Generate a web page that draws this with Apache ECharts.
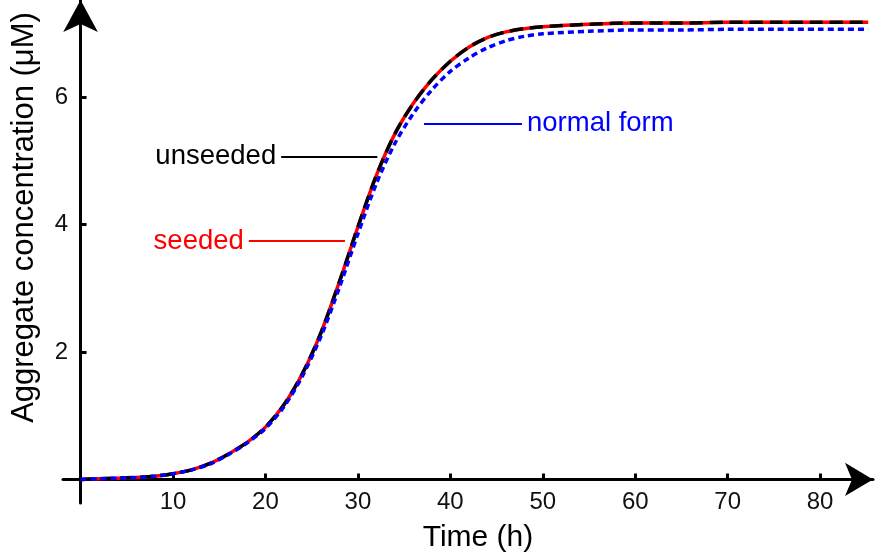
<!DOCTYPE html>
<html lang="en">
<head>
    <meta charset="UTF-8">
    <title>aggregate</title>
    <script src="https://cdn.jsdelivr.net/npm/echarts@6/dist/echarts.min.js"></script>
</head>
<body style="margin:0">
<div id="main" style="width:875px;height:560px"></div>

<script>
    // time points (h) and concentrations (uM)
    var time = [0, 2, 4, 6, 8, 10, 12, 14, 16, 18, 20, 22, 24, 26, 28, 30, 32, 34, 36, 38, 40, 42, 44, 46, 48, 50, 55, 60, 65, 70, 75, 80, 85.2];
    var unseeded = [0, 0.01, 0.02, 0.03, 0.05, 0.09, 0.15, 0.25, 0.40, 0.58, 0.82, 1.17, 1.66, 2.30, 3.10, 3.96, 4.77, 5.42, 5.90, 6.27, 6.56, 6.78, 6.93, 7.02, 7.07, 7.10, 7.14, 7.16, 7.16, 7.17, 7.17, 7.17, 7.17];
    var seeded = [0, 0.01, 0.02, 0.03, 0.05, 0.09, 0.15, 0.25, 0.40, 0.58, 0.82, 1.17, 1.66, 2.30, 3.10, 3.96, 4.77, 5.42, 5.90, 6.27, 6.56, 6.78, 6.93, 7.02, 7.07, 7.10, 7.14, 7.16, 7.16, 7.17, 7.17, 7.17, 7.17];
    var normalForm = [0, 0.01, 0.02, 0.03, 0.05, 0.09, 0.15, 0.24, 0.39, 0.57, 0.80, 1.14, 1.62, 2.24, 3.01, 3.85, 4.64, 5.27, 5.74, 6.11, 6.40, 6.61, 6.77, 6.88, 6.95, 6.99, 7.03, 7.05, 7.05, 7.06, 7.06, 7.06, 7.06];

    var xTicks = [10, 20, 30, 40, 50, 60, 70, 80];
    var yTicks = [2, 4, 6];

    // curve labels: text, height of the leader line, leader line from/to (h)
    var labelText = ['unseeded', 'seeded', 'normal form'];
    var labelY = [5.06, 3.74, 5.58];
    var leaderFrom = [21.7, 18.2, 37.15];
    var leaderTo = [32.1, 28.6, 47.75];

    var font = 'Liberation Sans, Arial, sans-serif';

    function pairs(xs, ys) {
        var out = [];
        for (var i = 0; i < xs.length; i++) {
            out.push([xs[i], ys[i]]);
        }
        return out;
    }

    function leader(i, color, pos) {
        return {
            silent: true,
            symbol: 'none',
            animation: false,
            lineStyle: { color: color, width: 2, type: 'solid' },
            label: {
                show: true,
                position: pos,
                distance: 5,
                formatter: labelText[i],
                color: color,
                fontSize: 27.5,
                fontFamily: font
            },
            data: [[
                { coord: [leaderFrom[i], labelY[i]] },
                { coord: [leaderTo[i], labelY[i]] }
            ]]
        };
    }

    var myChart = echarts.init(document.getElementById('main'));

    // labels and names are laid out from the grid edge, not from the zero line
    var option = {
        animation: false,
        grid: { left: 63, right: 2, top: 0, bottom: 57, containLabel: false, outerBoundsMode: 'none' },
        xAxis: {
            type: 'value',
            min: -1.9,
            max: 85.72,
            name: 'Time (h)',
            nameLocation: 'middle',
            nameGap: 20,
            nameTextStyle: { fontSize: 30, color: '#000', fontFamily: font, padding: [0, 0, 0, 20] },
            axisLine: {
                onZero: true,
                symbol: ['none', 'arrow'],
                symbolSize: [25, 28],
                lineStyle: { color: '#000', width: 3 }
            },
            axisTick: { inside: true, length: 6, customValues: xTicks, lineStyle: { color: '#000', width: 3 } },
            axisLabel: { customValues: xTicks, fontSize: 24, color: '#111', margin: -13, fontFamily: font },
            splitLine: { show: false }
        },
        yAxis: {
            type: 'value',
            min: -0.37,
            max: 7.52,
            name: 'Aggregate concentration (μM)',
            nameLocation: 'middle',
            nameGap: 23,
            nameTextStyle: { fontSize: 31, color: '#000', fontFamily: font, padding: [0, 0, 0, 68] },
            axisLine: {
                onZero: true,
                symbol: ['none', 'arrow'],
                symbolSize: [26, 32],
                lineStyle: { color: '#000', width: 3 }
            },
            axisTick: { inside: true, length: 6, customValues: yTicks, lineStyle: { color: '#000', width: 3 } },
            axisLabel: { customValues: yTicks, fontSize: 24, color: '#111', margin: -5, fontFamily: font },
            splitLine: { show: false }
        },
        series: [
            {
                name: 'seeded',
                type: 'line',
                smooth: 0.3,
                showSymbol: false,
                clip: false,
                lineStyle: { color: '#ff0000', width: 3.5, type: 'solid' },
                data: pairs(time, seeded),
                markLine: leader(1, '#ff0000', 'start'),
                z: 2
            },
            {
                name: 'unseeded',
                type: 'line',
                smooth: 0.3,
                showSymbol: false,
                clip: false,
                lineStyle: { color: '#000000', width: 3.5, type: [13, 7] },
                data: pairs(time, unseeded),
                markLine: leader(0, '#000000', 'start'),
                z: 3
            },
            {
                name: 'normal form',
                type: 'line',
                smooth: 0.3,
                showSymbol: false,
                clip: false,
                lineStyle: { color: '#0000ff', width: 3.5, type: [6, 4] },
                data: pairs(time, normalForm),
                markLine: leader(2, '#0000ff', 'end'),
                z: 4
            }
        ]
    };

    myChart.setOption(option);
</script>
</body>
</html>
